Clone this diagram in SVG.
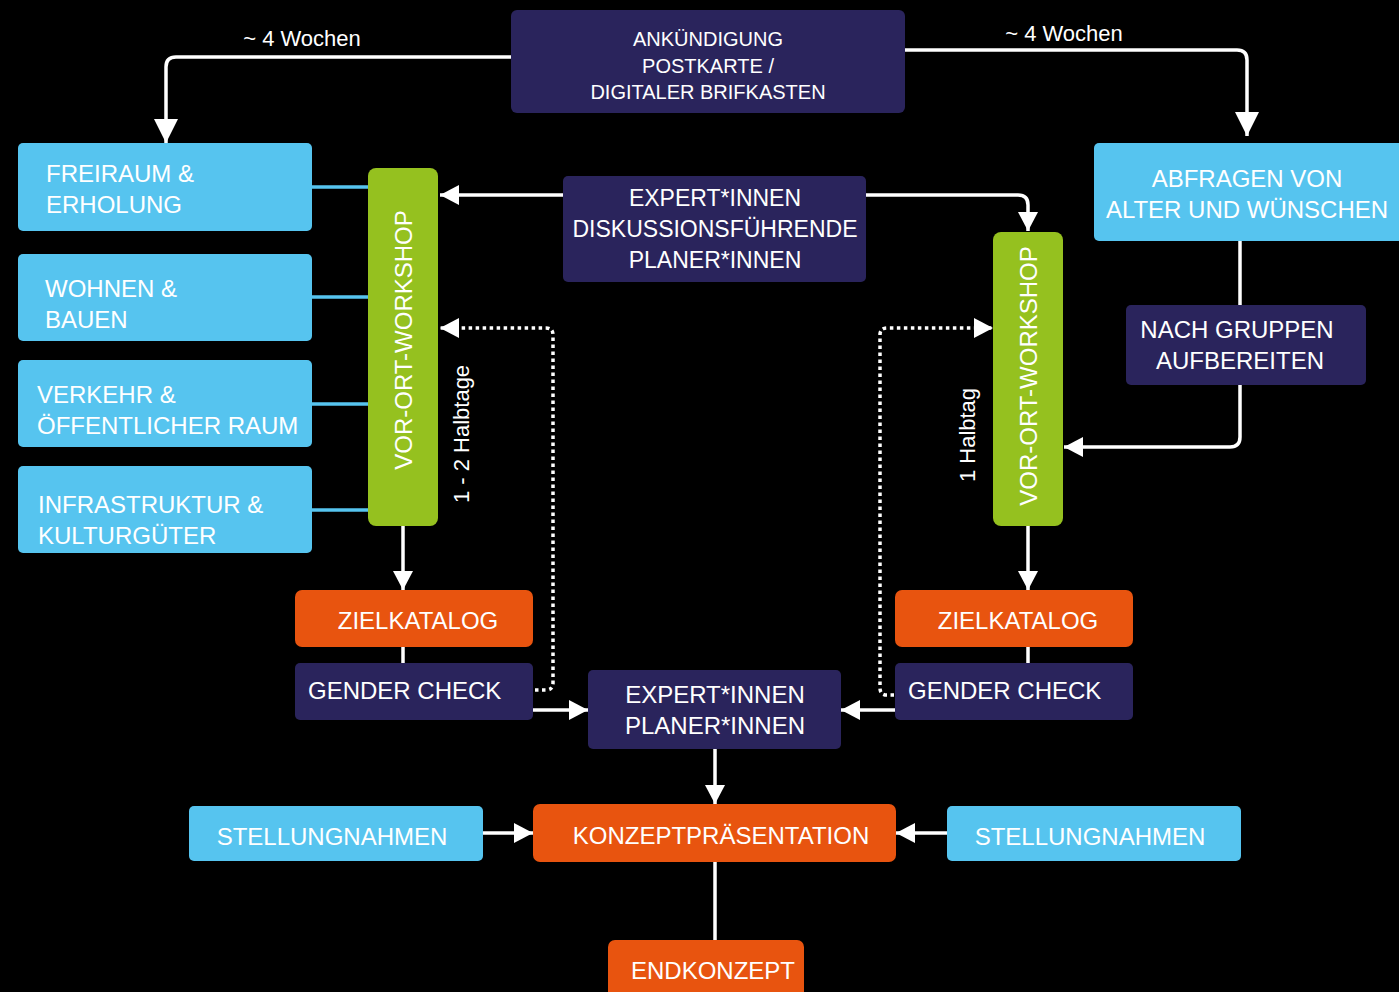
<svg xmlns="http://www.w3.org/2000/svg" width="1399" height="992" viewBox="0 0 1399 992">
<defs>
<style>
text{font-family:"Liberation Sans",Arial,sans-serif;fill:#ffffff;font-size:24px}
.navy{fill:#2a245c}
.blue{fill:#56c4ef}
.green{fill:#95c11f}
.orange{fill:#e8540f}
.c{text-anchor:middle}
.ln{fill:none;stroke:#ffffff;stroke-width:3.5}
.dot{fill:none;stroke:#ffffff;stroke-width:3.5;stroke-dasharray:3.5 3.5}
.bl{fill:none;stroke:#56c4ef;stroke-width:3.5}
text.lbl{font-size:22px}
text.s20{font-size:20px}
text.s23{font-size:23px}
</style>
<marker id="ah" markerUnits="userSpaceOnUse" markerWidth="26" markerHeight="26" refX="24" refY="12" orient="auto">
<path d="M0,0 L24,12 L0,24 z" fill="#ffffff"/>
</marker>
<marker id="ahs" markerUnits="userSpaceOnUse" markerWidth="22" markerHeight="22" refX="19" refY="10" orient="auto">
<path d="M0,0 L19,10 L0,20 z" fill="#ffffff"/>
</marker>
</defs>
<rect width="1399" height="992" fill="#000000"/>

<g id="connectors">
<path class="ln" d="M511,57 H176 Q166,57 166,67 V143" marker-end="url(#ah)"/>
<path class="ln" d="M905,50 H1237 Q1247,50 1247,60 V136" marker-end="url(#ah)"/>
<path class="ln" d="M563,195 H440" marker-end="url(#ahs)"/>
<path class="ln" d="M866,195 H1018 Q1028,195 1028,205 V231" marker-end="url(#ahs)"/>
<path class="ln" d="M1240,241 V305"/>
<path class="ln" d="M1240,385 V437 Q1240,447 1230,447 H1064" marker-end="url(#ahs)"/>
<path class="dot" d="M535,690 H546 Q553,690 553,683 V335 Q553,328 546,328 H440" marker-end="url(#ahs)"/>
<path class="dot" d="M894,695 H887 Q880,695 880,688 V335 Q880,328 887,328 H993" marker-end="url(#ahs)"/>
<path class="ln" d="M403,526 V590" marker-end="url(#ahs)"/>
<path class="ln" d="M1028,526 V590" marker-end="url(#ahs)"/>
<path class="ln" d="M403,647 V663"/>
<path class="ln" d="M1028,647 V663"/>
<path class="ln" d="M533,710 H588" marker-end="url(#ahs)"/>
<path class="ln" d="M895,710 H841" marker-end="url(#ahs)"/>
<path class="ln" d="M715,749 V804" marker-end="url(#ahs)"/>
<path class="ln" d="M483,833 H533" marker-end="url(#ahs)"/>
<path class="ln" d="M947,833 H896" marker-end="url(#ahs)"/>
<path class="ln" d="M715,862 V940"/>
<path class="bl" d="M312,187 H368"/>
<path class="bl" d="M312,297 H368"/>
<path class="bl" d="M312,404 H368"/>
<path class="bl" d="M312,510 H368"/>
<text class="lbl c" x="302" y="46">~ 4 Wochen</text>
<text class="lbl c" x="1064" y="41">~ 4 Wochen</text>
<text class="lbl c" transform="translate(469,434) rotate(-90)">1 - 2 Halbtage</text>
<text class="lbl c" transform="translate(975,435) rotate(-90)">1 Halbtag</text>
</g>

<g id="ankuendigung">
<rect class="navy" x="511" y="10" width="394" height="103" rx="6"/>
<text class="c s20" x="708" y="46">ANKÜNDIGUNG</text>
<text class="c s20" x="708" y="73">POSTKARTE /</text>
<text class="c s20" x="708" y="99">DIGITALER BRIFKASTEN</text>
</g>

<g id="freiraum">
<rect class="blue" x="18" y="143" width="294" height="88" rx="5"/>
<text x="46" y="182">FREIRAUM &amp;</text>
<text x="46" y="213">ERHOLUNG</text>
</g>
<g id="wohnen">
<rect class="blue" x="18" y="254" width="294" height="87" rx="5"/>
<text x="45" y="297">WOHNEN &amp;</text>
<text x="45" y="328">BAUEN</text>
</g>
<g id="verkehr">
<rect class="blue" x="18" y="360" width="294" height="87" rx="5"/>
<text x="37" y="403">VERKEHR &amp;</text>
<text x="37" y="434">ÖFFENTLICHER RAUM</text>
</g>
<g id="infrastruktur">
<rect class="blue" x="18" y="466" width="294" height="87" rx="5"/>
<text x="38" y="513">INFRASTRUKTUR &amp;</text>
<text x="38" y="544">KULTURGÜTER</text>
</g>

<g id="workshop-left">
<rect class="green" x="368" y="168" width="70" height="358" rx="8"/>
<text class="c" transform="translate(412,340) rotate(-90)">VOR-ORT-WORKSHOP</text>
</g>

<g id="experten-diskussion">
<rect class="navy" x="563" y="176" width="303" height="106" rx="5"/>
<text class="c s23" x="715" y="206">EXPERT*INNEN</text>
<text class="c s23" x="715" y="237">DISKUSSIONSFÜHRENDE</text>
<text class="c s23" x="715" y="268">PLANER*INNEN</text>
</g>

<g id="workshop-right">
<rect class="green" x="993" y="232" width="70" height="294" rx="8"/>
<text class="c" transform="translate(1037,376) rotate(-90)">VOR-ORT-WORKSHOP</text>
</g>

<g id="abfragen">
<rect class="blue" x="1094" y="143" width="310" height="98" rx="5"/>
<text class="c" x="1247" y="187">ABFRAGEN VON</text>
<text class="c" x="1247" y="218">ALTER UND WÜNSCHEN</text>
</g>

<g id="nach-gruppen">
<rect class="navy" x="1126" y="305" width="240" height="80" rx="5"/>
<text class="c" x="1237" y="338">NACH GRUPPEN</text>
<text class="c" x="1240" y="369">AUFBEREITEN</text>
</g>

<g id="zielkatalog-left">
<rect class="orange" x="295" y="590" width="238" height="57" rx="7"/>
<text class="c" x="418" y="629">ZIELKATALOG</text>
</g>
<g id="gender-left">
<rect class="navy" x="295" y="663" width="238" height="57" rx="5"/>
<text x="308" y="699">GENDER CHECK</text>
</g>

<g id="zielkatalog-right">
<rect class="orange" x="895" y="590" width="238" height="57" rx="7"/>
<text class="c" x="1018" y="629">ZIELKATALOG</text>
</g>
<g id="gender-right">
<rect class="navy" x="895" y="663" width="238" height="57" rx="5"/>
<text x="908" y="699">GENDER CHECK</text>
</g>

<g id="experten-planer">
<rect class="navy" x="588" y="670" width="253" height="79" rx="5"/>
<text class="c" x="715" y="703">EXPERT*INNEN</text>
<text class="c" x="715" y="734">PLANER*INNEN</text>
</g>

<g id="stellung-left">
<rect class="blue" x="189" y="806" width="294" height="55" rx="5"/>
<text class="c" x="332" y="845">STELLUNGNAHMEN</text>
</g>
<g id="konzept">
<rect class="orange" x="533" y="804" width="363" height="58" rx="7"/>
<text class="c" x="721" y="844">KONZEPTPRÄSENTATION</text>
</g>
<g id="stellung-right">
<rect class="blue" x="947" y="806" width="294" height="55" rx="5"/>
<text class="c" x="1090" y="845">STELLUNGNAHMEN</text>
</g>

<g id="endkonzept">
<rect class="orange" x="608" y="940" width="196" height="62" rx="7"/>
<text class="c" x="713" y="979">ENDKONZEPT</text>
</g>
</svg>
